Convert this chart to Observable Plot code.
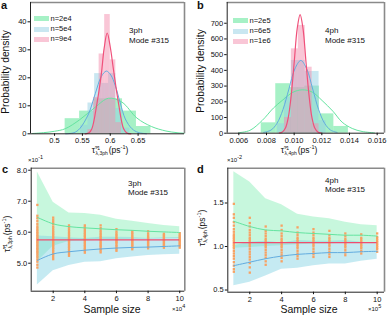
<!DOCTYPE html>
<html><head><meta charset="utf-8">
<script src="https://cdn.jsdelivr.net/npm/d3@7"></script>
<script src="https://cdn.jsdelivr.net/npm/@observablehq/plot@0.6"></script>
<style>
body{margin:0;width:390px;height:315px;position:relative;overflow:hidden;background:#fff;font-family:"Liberation Sans",Arial,sans-serif;color:#111;}
.pan{position:absolute;}
.pan svg{overflow:visible;}
.t{position:absolute;white-space:nowrap;line-height:1;}
.lt{font-weight:bold;font-size:11px;}
.sm{font-size:8px;}
.ti{font-size:10.3px;}
.ss{display:inline-flex;flex-direction:column;vertical-align:middle;font-size:5px;line-height:1;margin:0 1px 0 0.5px;}
sup{font-size:5.5px;line-height:0;}
.sw{position:absolute;width:15px;height:5px;}
</style></head><body>
<script>
// ---------- data ----------
const legendA = ["n=2e4","n=5e4","n=9e4"];
const legendB = ["n=2e5","n=6e5","n=1e6"];
const modeText = "Mode #315";

// panel a histograms (bin edges and density heights)
const aGreenEdges = [0.519,0.545,0.571,0.597,0.622,0.647,0.673];
const aGreenH     = [5.4,8.1,12.5,12.5,8.1,2.6];
const aBlueEdges  = [0.547,0.560,0.572,0.585,0.597,0.610,0.622,0.635];
const aBlueH      = [3,11,21.5,18,21.5,9,2];
const aPinkEdges  = [0.560,0.570,0.580,0.590,0.600,0.610,0.620];
const aPinkH      = [1.5,13,28.5,42.6,26.4,4];
// panel a fitted curves (x, density)
const aGreenCurve = [[0.46,0.1],[0.48,0.4],[0.50,0.9],[0.519,1.8],[0.545,5.0],[0.573,9.5],[0.597,12.7],[0.621,11.3],[0.648,5.6],[0.674,2.6],[0.70,1.0],[0.72,0.4],[0.733,0.2]];
const aBlueCurve  = [[0.52,0],[0.535,0.4],[0.545,1.8],[0.561,7.1],[0.573,14.3],[0.584,20.5],[0.593,22.4],[0.601,21],[0.609,17.2],[0.618,11],[0.627,5.3],[0.639,1.8],[0.65,0.5],[0.665,0]];
const aPinkCurve  = [[0.555,0],[0.562,0.4],[0.567,1.8],[0.576,10.7],[0.584,21.4],[0.589,30.5],[0.5945,36],[0.600,31],[0.606,22.6],[0.615,10.7],[0.624,1.8],[0.630,0.3],[0.637,0]];

// panel b histograms
const bGreenEdges = [0.00762,0.00867,0.00972,0.01077,0.01182,0.01287,0.01392];
const bGreenH     = [66,315,290,300,123,43];
const bBlueEdges  = [0.0088,0.0093,0.0098,0.0103,0.0108,0.0113,0.0118,0.0123];
const bBlueH      = [60,229,463,463,393,393,80];
const bPinkEdges  = [0.0093,0.0098,0.0103,0.0108,0.0113,0.0118];
const bPinkH      = [100,537,686,420,60];
const bGreenCurve = [[0.0060,3],[0.0068,18],[0.00769,81],[0.0085,160],[0.00913,208],[0.0099,260],[0.01058,276],[0.0113,262],[0.01202,208],[0.0128,140],[0.01347,70],[0.0142,30],[0.01491,11],[0.0158,2]];
const bBlueCurve  = [[0.0078,5],[0.00833,20],[0.00876,63],[0.00919,150],[0.00962,281],[0.01005,409],[0.01048,463],[0.01091,409],[0.01134,281],[0.01177,150],[0.0122,63],[0.01263,20],[0.0131,5]];
const bPinkCurve  = [[0.00893,1.5],[0.00915,8],[0.00937,33],[0.00958,102],[0.00979,244],[0.01001,458],[0.01022,666],[0.01043,755],[0.01064,666],[0.01085,458],[0.01107,244],[0.01128,102],[0.01149,33],[0.01171,8],[0.01193,1.5]];

// panel c (values x10^-1) vs sample size (x10^4)
const sizes = [1,2,3,4,5,6,7,8,9,10];
const cGreenTop  = [7.94,6.97,6.62,6.60,6.55,6.42,6.35,6.28,6.22,6.18];
const cGreenBot  = [5.05,5.55,5.70,5.72,5.74,5.76,5.77,5.78,5.79,5.80];
const cBlueTop   = [5.88,5.85,5.82,5.80,5.84,5.84,5.83,5.80,5.82,5.83];
const cBlueBot   = [4.30,4.76,4.93,5.03,5.05,5.14,5.20,5.25,5.27,5.29];
const cGreenLine = [6.48,6.27,6.18,6.14,6.11,6.08,6.06,6.03,6.01,5.99];
const cBlueLine  = [5.09,5.30,5.37,5.42,5.46,5.49,5.51,5.52,5.54,5.56];
const cTrue = 5.75;
const cDots = [
 [4.86,4.95,5.05,5.12,5.19,5.25,5.31,5.36,5.41,5.46,5.5,5.55,5.6,5.64,5.69,5.73,5.78,5.82,5.87,5.92,5.97,6.02,6.07,6.13,6.19,6.27,6.36,6.45,6.53,6.88],
 [5.13,5.2,5.27,5.33,5.39,5.45,5.5,5.55,5.6,5.65,5.7,5.75,5.8,5.85,5.9,5.95,6.0,6.06,6.12,6.18,6.26,6.33,6.4,6.47],
 [5.24,5.3,5.36,5.42,5.48,5.53,5.58,5.63,5.68,5.72,5.77,5.82,5.87,5.92,5.97,6.03,6.09,6.15,6.22],
 [5.34,5.4,5.45,5.5,5.55,5.6,5.65,5.7,5.74,5.78,5.83,5.88,5.93,5.98,6.04,6.1,6.16,6.22],
 [5.35,5.41,5.46,5.51,5.56,5.6,5.65,5.7,5.75,5.79,5.84,5.89,5.94,6.0,6.06,6.13,6.22],
 [5.40,5.45,5.5,5.55,5.6,5.65,5.69,5.73,5.77,5.81,5.86,5.91,5.96,6.02,6.1],
 [5.45,5.5,5.55,5.59,5.63,5.67,5.71,5.75,5.79,5.83,5.88,5.93,5.98,6.03],
 [5.48,5.53,5.57,5.61,5.65,5.69,5.73,5.77,5.81,5.85,5.9,5.96,6.03],
 [5.50,5.55,5.59,5.63,5.67,5.71,5.75,5.79,5.83,5.87,5.91,5.95],
 [5.50,5.55,5.59,5.63,5.67,5.71,5.75,5.79,5.83,5.87,5.92,5.97]
];

// panel d (values x10^-2) vs sample size (x10^5)
const dGreenTop  = [1.86,1.74,1.55,1.48,1.37,1.34,1.32,1.28,1.25,1.24];
const dGreenBot  = [0.98,0.99,1.0,1.01,1.02,1.03,1.03,1.04,1.04,1.04];
const dBlueTop   = [1.01,1.05,1.06,1.04,1.07,1.06,1.06,1.07,1.05,1.04];
const dBlueBot   = [0.55,0.59,0.66,0.74,0.75,0.78,0.80,0.80,0.83,0.855];
const dGreenLine = [1.29,1.23,1.19,1.18,1.16,1.15,1.14,1.13,1.13,1.12];
const dBlueLine  = [0.78,0.82,0.86,0.89,0.91,0.92,0.93,0.93,0.94,0.945];
const dTrue = 1.045;
const dDots = [
 [0.71,0.74,0.78,0.82,0.86,0.89,0.92,0.95,0.98,1.0,1.02,1.04,1.06,1.08,1.1,1.12,1.14,1.17,1.2,1.24,1.28,1.33,1.37,1.49],
 [0.70,0.76,0.81,0.85,0.88,0.91,0.94,0.97,1.0,1.02,1.04,1.06,1.08,1.1,1.13,1.16,1.19,1.23,1.27,1.33],
 [0.79,0.83,0.87,0.9,0.93,0.96,0.99,1.01,1.03,1.05,1.07,1.09,1.12,1.15,1.18,1.23],
 [0.83,0.87,0.9,0.93,0.96,0.99,1.01,1.03,1.05,1.07,1.09,1.12,1.15,1.19,1.24],
 [0.86,0.89,0.92,0.95,0.98,1.0,1.02,1.04,1.06,1.08,1.1,1.13,1.16,1.22],
 [0.88,0.91,0.94,0.97,1.0,1.02,1.04,1.06,1.08,1.1,1.13,1.16,1.2],
 [0.88,0.91,0.94,0.97,1.0,1.02,1.04,1.06,1.08,1.1,1.13,1.18],
 [0.90,0.93,0.96,0.99,1.01,1.03,1.05,1.07,1.09,1.12,1.15],
 [0.92,0.95,0.98,1.0,1.02,1.04,1.06,1.08,1.1,1.14],
 [0.94,0.97,0.99,1.01,1.03,1.05,1.07,1.09,1.11,1.15]
];

// ---------- styles ----------
const GREEN="#4ee38e", BLUE="#93cfe4", PINK="#f48dae";
const GREEN_L="#64e4a0", BLUE_L="#62acdf", PINK_L="#f0507a";
const ORANGE="#f8a263", RED="#f04c6e";
const FONT='"Liberation Sans",Arial,sans-serif';

function bins(edges,h){return h.map((v,i)=>({x1:edges[i],x2:edges[i+1],y:v}));}
function pts(a){return a.map(([x,y])=>({x,y}));}
function frame(xd,yd){
  return [
    Plot.ruleY([yd[1]],{stroke:"#8a8a8a",strokeWidth:1.6}),
    Plot.ruleX([xd[1]],{stroke:"#8a8a8a",strokeWidth:1.6}),
    Plot.ruleX([xd[0]],{stroke:"#222",strokeWidth:1}),
    Plot.ruleY([yd[0]],{stroke:"#222",strokeWidth:1})
  ];
}
function place(el,left,top){const d=document.createElement("div");d.className="pan";d.style.left=left+"px";d.style.top=top+"px";d.appendChild(el);document.body.appendChild(d);}
function txt(html,left,top,cls,extra){const d=document.createElement("div");d.className="t "+(cls||"");d.style.left=left+"px";d.style.top=top+"px";if(extra)Object.assign(d.style,extra);d.innerHTML=html;document.body.appendChild(d);return d;}

function histPanel(o){
  const xd=o.xd, yd=o.yd;
  return Plot.plot({
    width:195,height:o.h,marginLeft:o.ml,marginRight:o.mr,marginTop:o.mt,marginBottom:o.mb,
    style:{fontFamily:FONT,fontSize:"7.5px",color:"#111",background:"transparent"},
    x:{domain:xd},y:{domain:yd},
    marks:[
      Plot.rectY(bins(o.ge,o.gh),{x1:"x1",x2:"x2",y:"y",fill:GREEN,fillOpacity:0.5,inset:0}),
      Plot.rectY(bins(o.be,o.bh),{x1:"x1",x2:"x2",y:"y",fill:BLUE,fillOpacity:0.5,inset:0}),
      Plot.rectY(bins(o.pe,o.ph),{x1:"x1",x2:"x2",y:"y",fill:PINK,fillOpacity:0.5,inset:0}),
      Plot.line(pts(o.gc),{x:"x",y:"y",stroke:GREEN_L,strokeWidth:1,curve:"catmull-rom"}),
      Plot.line(pts(o.bc),{x:"x",y:"y",stroke:BLUE_L,strokeWidth:1,curve:"catmull-rom"}),
      Plot.line(pts(o.pc),{x:"x",y:"y",stroke:PINK_L,strokeWidth:1.2,curve:"catmull-rom"}),
      ...frame(xd,yd),
      Plot.axisX({ticks:o.xt,tickFormat:o.xf,tickSize:2.5,tickPadding:1.5,label:null}),
      Plot.axisY({ticks:o.yt,tickFormat:o.yf,tickSize:2.5,tickPadding:1.5,label:null})
    ]
  });
}

function convPanel(o){
  const xd=o.xd, yd=o.yd;
  const rows=sizes.map((s,i)=>({x:s,gt:o.gt[i],gb:o.gb[i],bt:o.bt[i],bb:o.bb[i],gl:o.gl[i],bl:o.bl[i]}));
  const dots=[];o.dots.forEach((col,i)=>col.forEach(v=>dots.push({x:sizes[i],y:v})));
  return Plot.plot({
    width:195,height:160,marginLeft:o.ml,marginRight:o.mr,marginTop:o.mt,marginBottom:o.mb,
    style:{fontFamily:FONT,fontSize:"7.5px",color:"#111",background:"transparent"},
    x:{domain:xd},y:{domain:yd},
    marks:[
      Plot.areaY(rows,{x:"x",y1:"gb",y2:"gt",fill:"#8ff0bb",fillOpacity:0.5}),
      Plot.areaY(rows,{x:"x",y1:"bb",y2:"bt",fill:"#7fd0e3",fillOpacity:0.45}),
      Plot.dot(dots,{x:"x",y:"y",symbol:"square",r:1.3,fill:ORANGE,stroke:null}),
      Plot.line(rows,{x:"x",y:"gl",stroke:GREEN_L,strokeWidth:1,curve:"catmull-rom"}),
      Plot.line(rows,{x:"x",y:"bl",stroke:BLUE_L,strokeWidth:1,curve:"catmull-rom"}),
      Plot.ruleY([o.tv],{x1:sizes[0],x2:sizes[sizes.length-1],stroke:RED,strokeWidth:1.3}),
      ...frame(xd,yd),
      Plot.axisX({ticks:[2,4,6,8,10],tickSize:2.5,tickPadding:1.5,label:null}),
      Plot.axisY({ticks:o.yt,tickFormat:d3.format(".1f"),tickSize:2.5,tickPadding:1.5,label:null})
    ]
  });
}

place(histPanel({h:155,ml:30,mr:11,mt:2,mb:21.7,xd:[0.4568,0.7333],yd:[0,46.9],
  ge:aGreenEdges,gh:aGreenH,be:aBlueEdges,bh:aBlueH,pe:aPinkEdges,ph:aPinkH,
  gc:aGreenCurve,bc:aBlueCurve,pc:aPinkCurve,
  xt:[0.5,0.55,0.6,0.65],xf:d3.format(""),yt:[0,10,20,30,40],yf:d3.format("d")}),0,0);
place(histPanel({h:155,ml:31.7,mr:6,mt:2,mb:22.3,xd:[0.00516,0.01653],yd:[0,832],
  ge:bGreenEdges,gh:bGreenH,be:bBlueEdges,bh:bBlueH,pe:bPinkEdges,ph:bPinkH,
  gc:bGreenCurve,bc:bBlueCurve,pc:bPinkCurve,
  xt:[0.006,0.008,0.010,0.012,0.014,0.016],xf:d3.format(".3f"),yt:[0,100,200,300,400,500,600,700],yf:d3.format("d")}),195,0);
place(convPanel({ml:30.7,mr:10.7,mt:12.7,mb:24.3,xd:[0.61,10.32],yd:[4.097,8.065],
  gt:cGreenTop,gb:cGreenBot,bt:cBlueTop,bb:cBlueBot,gl:cGreenLine,bl:cBlueLine,dots:cDots,tv:cTrue,yt:[5,6,7,8]}),0,155);
place(convPanel({ml:32.3,mr:6,mt:12.7,mb:23.3,xd:[0.62,10.46],yd:[0.475,1.90],
  gt:dGreenTop,gb:dGreenBot,bt:dBlueTop,bb:dBlueBot,gl:dGreenLine,bl:dBlueLine,dots:dDots,tv:dTrue,yt:[0.5,1.0,1.5]}),195,155);

// ---------- text ----------
txt("a",1,0,"lt"); txt("b",197,0,"lt"); txt("c",2,164,"lt"); txt("d",197,164,"lt");
// legends
const sw=[GREEN,BLUE,PINK];
[[34,18.7,legendA],[233,20.7,legendB]].forEach(([x0,y0,labs])=>{
  labs.forEach((l,i)=>{
    const s=document.createElement("div");s.className="sw";s.style.left=x0+"px";s.style.top=(y0+i*10.3-2.5)+"px";s.style.background=sw[i];s.style.opacity=0.5;document.body.appendChild(s);
    txt(l,x0+16.5,y0+i*10.3-4,"",{fontSize:"7.5px"});
  });
});
txt("3ph<br>"+modeText,129,26,"sm",{lineHeight:"10px"});
txt("4ph<br>"+modeText,325,26,"sm",{lineHeight:"10px"});
txt("3ph<br>"+modeText,128,180,"sm",{lineHeight:"8.5px"});
txt("4ph<br>"+modeText,325,177,"sm",{lineHeight:"8.5px"});
// y titles
txt("Probability density",5.5,72,"ti",{transform:"translate(-50%,-50%) rotate(-90deg)"});
txt("Probability density",200.5,71,"ti",{transform:"translate(-50%,-50%) rotate(-90deg)"});
// tau titles
function tau(ph){return 'τ̃<span class="ss"><span>-1</span><span>λ,'+ph+'</span></span>(ps<sup>-1</sup>)';}
txt(tau("3ph"),110,150.5,"",{fontSize:"8.5px",transform:"translate(-50%,-50%)"});
txt(tau("4ph"),299,150.5,"",{fontSize:"8.5px",transform:"translate(-50%,-50%)"});
txt(tau("3ph"),7.5,234,"",{fontSize:"8.5px",transform:"translate(-50%,-50%) rotate(-90deg)"});
txt(tau("4ph"),202.5,228,"",{fontSize:"8.5px",transform:"translate(-50%,-50%) rotate(-90deg)"});
txt("Sample size",112,309,"",{fontSize:"10.5px",transform:"translate(-50%,-50%)"});
txt("Sample size",309,309,"",{fontSize:"10.5px",transform:"translate(-50%,-50%)"});
// multipliers
txt("×10<sup>-1</sup>",28,157,"",{fontSize:"6px"});
txt("×10<sup>-2</sup>",227,157,"",{fontSize:"6px"});
txt("×10<sup>4</sup>",172,306,"",{fontSize:"6px"});
txt("×10<sup>5</sup>",368,306,"",{fontSize:"6px"});
</script>
</body></html>
